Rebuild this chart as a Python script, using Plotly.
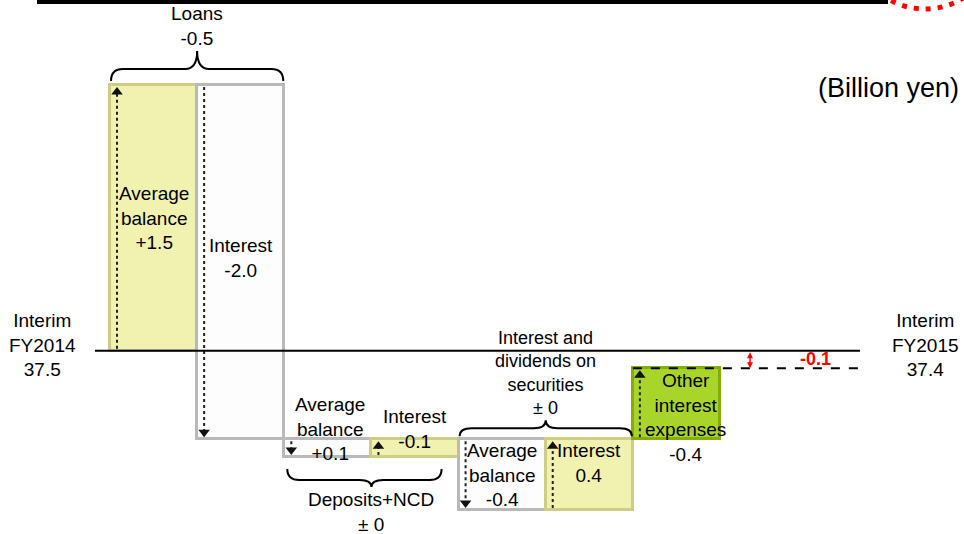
import plotly.graph_objects as go

# ---- data -------------------------------------------------------------
item_names = ["Average<br>balance", "Interest", "Average<br>balance", "Interest",
              "Average<br>balance", "Interest", "Other<br>interest<br>expenses"]
item_values = [1.5, -2.0, 0.1, -0.1, -0.4, 0.4, -0.4]
item_value_text = ["+1.5", "-2.0", "+0.1", "-0.1", "-0.4", "0.4", "-0.4"]
# expense-side items move net interest income in the opposite direction
profit_sign = [1, 1, -1, -1, 1, 1, -1]

group_names = ["Loans", "Deposits+NCD", "Interest and<br>dividends on<br>securities"]
group_members = [[0, 1], [2, 3], [4, 5]]

start_label = "Interim<br>FY2014"
end_label = "Interim<br>FY2015"
start_value = 37.5
unit_label = "(Billion yen)"

# ---- derived waterfall levels -----------------------------------------
impacts = [v * s for v, s in zip(item_values, profit_sign)]
levels = [start_value]
for d in impacts:
    levels.append(levels[-1] + d)
bases = levels[:-1]
end_value = round(levels[-1], 1)

# ---- styles -----------------------------------------------------------
FONT = "Liberation Sans, Arial, sans-serif"
YELLOW = ("#F1F1B0", "#CDCD84")
WHITE = ("#FDFDFD", "#B9B9B9")
GREEN = ("#A9D52B", "#84AE06")
bar_style = [YELLOW, WHITE, WHITE, YELLOW, WHITE, YELLOW, GREEN]

X_RANGE = [-1.7623, 9.2999]
Y_RANGE = [36.4645, 39.48]
W, H = 964, 534
PX_X = W / (X_RANGE[1] - X_RANGE[0])
PX_Y = H / (Y_RANGE[1] - Y_RANGE[0])


def dx(px):
    return px / PX_X


def dy(px):
    return px / PX_Y


n = len(item_values)
xs = list(range(n))

fig = go.Figure()

# bars
fig.add_trace(go.Bar(
    x=xs, y=impacts, base=bases, width=1.0,
    marker=dict(color=[s[0] for s in bar_style],
                line=dict(color=[s[1] for s in bar_style], width=3)),
    hoverinfo="skip", showlegend=False,
))

# dotted direction arrows along the left edge of each bar
ax_line, ay_line, hx, hy, hsym = [], [], [], [], []
for i in range(n):
    d = 1 if impacts[i] > 0 else -1
    xa = i - 0.5 + dx(7)
    ax_line += [xa, xa, None]
    ay_line += [bases[i] + d * dy(2), levels[i + 1] - d * dy(8), None]
    hx.append(xa)
    hy.append(levels[i + 1] - d * dy(7))
    hsym.append("triangle-up" if d > 0 else "triangle-down")
fig.add_trace(go.Scatter(x=ax_line, y=ay_line, mode="lines",
                         line=dict(color="#222222", width=2, dash="dot"),
                         hoverinfo="skip", showlegend=False))
fig.add_trace(go.Scatter(x=hx, y=hy, mode="markers",
                         marker=dict(symbol=hsym, size=10, color="#111111"),
                         hoverinfo="skip", showlegend=False))

# reference lines for the two periods
line_x0 = -0.5 - dx(15)
line_x1 = n - 0.5 + dx(140)
fig.add_shape(type="line", x0=line_x0, x1=line_x1, y0=start_value, y1=start_value,
              line=dict(color="black", width=2))
fig.add_shape(type="line", x0=n - 1.5, x1=line_x1, y0=end_value, y1=end_value,
              line=dict(color="black", width=2, dash="dash"))

annotations = []


def txt(x, y, text, size=19, color="black", **kw):
    kw.setdefault("xanchor", "center")
    kw.setdefault("yanchor", "middle")
    annotations.append(dict(x=x, y=y, text=text, showarrow=False,
                            font=dict(family=FONT, size=size, color=color), **kw))


# bar labels
label_shift_y = [0, 4, 19, 19, 0, 12, -14]
label_shift_x = [0, 0, 2, 0, 0, 0, 9]
for i in range(n):
    mid = (bases[i] + levels[i + 1]) / 2
    txt(i, mid, f"{item_names[i]}<br>{item_value_text[i]}",
        yshift=label_shift_y[i], xshift=label_shift_x[i])


def fmt_total(v):
    return "± 0" if abs(v) < 1e-9 else f"{v:.1f}"


def brace_path(x0, x1, xm, y_end, y_mid, y_tip, r):
    return (f"M {x0},{y_end} Q {x0},{y_mid} {x0 + r},{y_mid} "
            f"L {xm - r},{y_mid} Q {xm},{y_mid} {xm},{y_tip} "
            f"Q {xm},{y_mid} {xm + r},{y_mid} L {x1 - r},{y_mid} "
            f"Q {x1},{y_mid} {x1},{y_end}")


# (end, middle, tip) offsets of each brace in pixels, and its label size
brace_px = [(4, 16, 34), (12, 23, 30), (3, 11, 19)]
group_font = [19, 19, 18]
r = dx(12)
for g, members in enumerate(group_members):
    total = sum(item_values[i] for i in members)
    a, b = members[0], members[-1]
    xm = (a + b) / 2
    pe, pm, pt = brace_px[g]
    label = f"{group_names[g]}<br>{fmt_total(total)}"
    if g != 1:
        # brace above the group
        top = max(levels[a], levels[a + 1], levels[b + 1])
        y_end, y_mid, y_tip = top + dy(pe), top + dy(pm), top + dy(pt)
        x0, x1 = a - 0.5 + dx(1), b + 0.5 - dx(1)
        fig.add_shape(type="path", path=brace_path(x0, x1, xm, y_end, y_mid, y_tip, r),
                      line=dict(color="black", width=2))
        txt(xm, y_tip, label, size=group_font[g], yanchor="bottom")
    else:
        # brace below the group
        bot = min(levels[a], levels[a + 1], levels[b + 1])
        y_end, y_mid, y_tip = bot - dy(pe), bot - dy(pm), bot - dy(pt)
        x0, x1 = a - 0.5 + dx(3), b + 0.5 - dx(17)
        fig.add_shape(type="path", path=brace_path(x0, x1, xm, y_end, y_mid, y_tip, r),
                      line=dict(color="black", width=2))
        txt(xm, y_tip, label, size=group_font[g], yanchor="top", yshift=0)

# period labels
txt(42 / W, start_value, f"{start_label}<br>{start_value:.1f}", xref="paper", yshift=6)
txt(925 / W, (start_value + end_value) / 2, f"{end_label}<br>{end_value:.1f}",
    xref="paper", yshift=14)

# change between the periods
xr = n - 0.5 + dx(30)
annotations.append(dict(x=xr, y=end_value, ax=xr, ay=start_value, axref="x", ayref="y",
                        xref="x", yref="y", text="", showarrow=True,
                        arrowside="end+start", arrowhead=2, arrowsize=0.8,
                        arrowwidth=1.5, arrowcolor="#FF0000", standoff=0, startstandoff=0))
change = round(end_value - start_value, 1)
txt(815 / W, (start_value + end_value) / 2, f"<b>{change:.1f}</b>", size=18,
    color="#FF0000", xref="paper")

# unit
txt(888 / W, 1 - 88 / H, unit_label, size=27, xref="paper", yref="paper")

# header rule and corner mark
fig.add_shape(type="rect", xref="paper", yref="paper", x0=37 / W, x1=888 / W,
              y0=1 - 4 / H, y1=1.01, fillcolor="black", line=dict(width=0))
fig.add_shape(type="circle", xref="paper", yref="paper",
              x0=852.5 / W, x1=997.5 / W, y0=1 - 9 / H, y1=1 + 136 / H,
              line=dict(color="#FF0000", width=5, dash="5px,7px"))

fig.update_layout(
    width=W, height=H, autosize=False,
    margin=dict(l=0, r=0, t=0, b=0),
    paper_bgcolor="white", plot_bgcolor="white",
    bargap=0, showlegend=False,
    xaxis=dict(range=X_RANGE, visible=False, fixedrange=True),
    yaxis=dict(range=Y_RANGE, visible=False, fixedrange=True),
    annotations=annotations,
)

fig.write_html("out.html")
